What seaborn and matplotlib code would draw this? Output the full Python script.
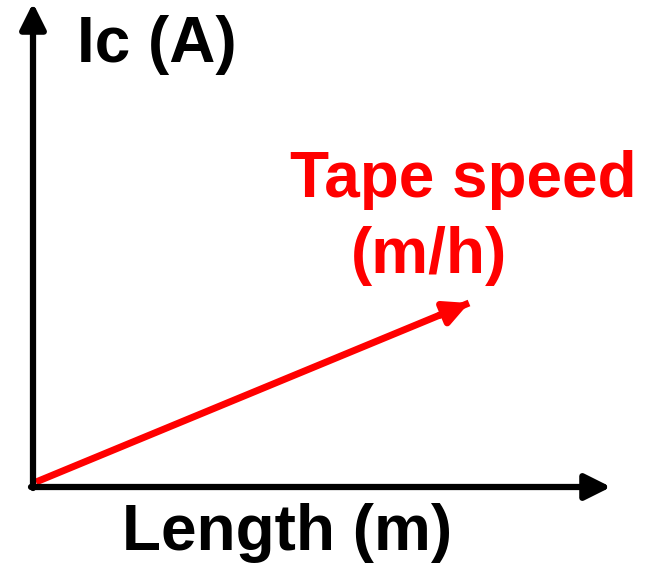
import matplotlib
matplotlib.use("Agg")
import matplotlib.pyplot as plt
import seaborn as sns
import pandas as pd

# schematic: Ic rises linearly with length, slope set by tape speed
length_m = [3, 436]
ic_a = [3, 182]
x_label = "Length (m)"
y_label = "Ic (A)"
trend_lines = ["Tape speed", "(m/h)"]

sns.set_theme(style="white")
plt.rcParams["font.family"] = ["Liberation Sans", "DejaVu Sans"]

fig = plt.figure(figsize=(6.48, 5.68), dpi=100)
ax = fig.add_axes([0, 0, 1, 1])
ax.set_xlim(-33, 615)
ax.set_ylim(-83, 485)
ax.axis("off")

df = pd.DataFrame({"length": length_m, "ic": ic_a})
sns.lineplot(data=df, x="length", y="ic", color="#ff0000", lw=5, ax=ax,
             solid_capstyle="butt")
ax.annotate("", xy=(length_m[1], ic_a[1]), xytext=(length_m[1] - 30, ic_a[1] - 12.5),
            arrowprops=dict(arrowstyle="-|>,head_length=1.2,head_width=0.6",
                            color="#ff0000", lw=5, shrinkA=0, shrinkB=0))

# axes arrows
ax.annotate("", xy=(0, 482), xytext=(0, -3),
            arrowprops=dict(arrowstyle="-|>,head_length=1.3,head_width=0.65",
                            color="black", lw=4.5, shrinkA=0, shrinkB=0))
ax.annotate("", xy=(578, -2), xytext=(-2, -2),
            arrowprops=dict(arrowstyle="-|>,head_length=1.3,head_width=0.65",
                            color="black", lw=4.5, shrinkA=0, shrinkB=0))

kw = dict(fontsize=46, fontweight="bold", ha="left", va="baseline")
ax.text(44, 423, y_label, color="black", **kw)
ax.text(89, -65, x_label, color="black", **kw)
ax.text(257, 288, trend_lines[0], color="#ff0000", **kw)
ax.text(318, 212, trend_lines[1], color="#ff0000", **kw)

fig.savefig("out.png", dpi=100)
